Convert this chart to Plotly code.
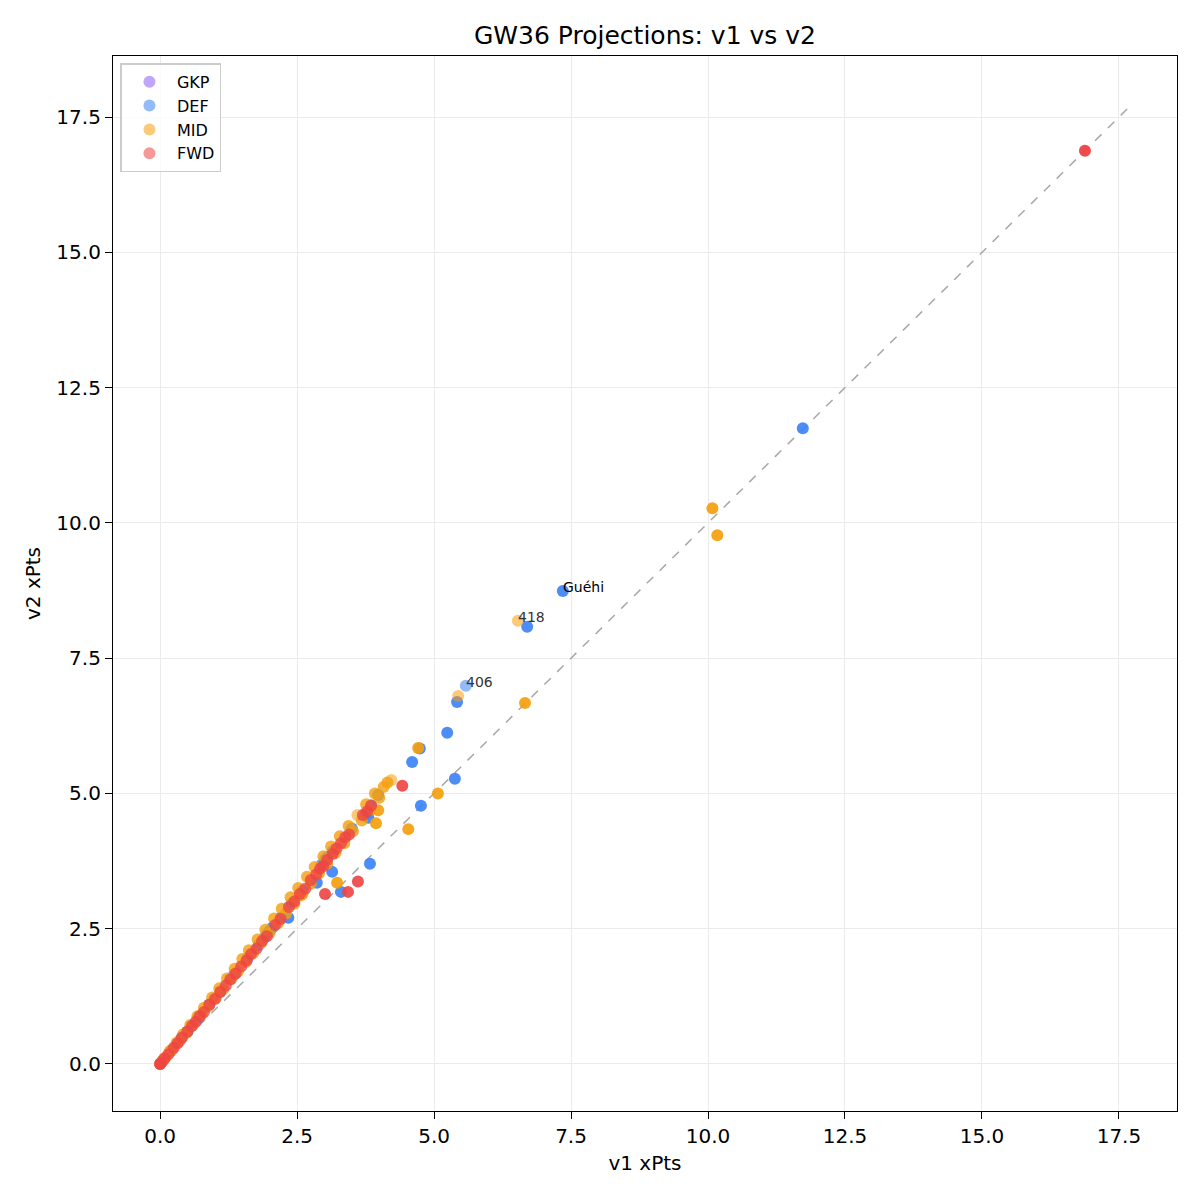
import plotly.graph_objects as go

# ---- data (v1 xPts, v2 xPts, stacked player count) per position ----
gkp_x = [0.0, 0.05]
gkp_y = [0.0, 0.06]
gkp_n = [2, 1]

def_x = [0.05, 0.2, 0.38, 0.5, 0.7, 0.9, 1.1, 1.35, 1.6, 1.8, 1.9, 1.95, 2.0, 2.05, 2.2, 2.4, 2.6,
         2.95, 3.01, 3.05, 3.15, 3.5, 3.75, 3.85, 3.98,
         2.34, 2.86, 3.14, 3.3, 3.8, 3.83, 4.6, 4.76, 4.74, 5.24, 5.38, 5.42, 5.58, 6.7, 7.35, 11.73]
def_y = [0.06, 0.24, 0.46, 0.6, 0.85, 1.1, 1.34, 1.65, 1.96, 2.2, 2.33, 2.4, 2.46, 2.52, 2.7, 2.96, 3.2,
         3.68, 3.78, 3.82, 3.93, 4.35, 4.62, 4.78, 4.97,
         2.7, 3.35, 3.55, 3.18, 4.55, 3.7, 5.58, 4.77, 5.83, 6.12, 5.27, 6.69, 6.99, 8.08, 8.74, 11.75]
def_n = [2, 2, 2, 2, 2, 2, 2, 2, 2, 2, 2, 2, 2, 2, 2, 2, 2,
         2, 2, 2, 2, 2, 2, 2, 2,
         3, 3, 3, 3, 3, 3, 3, 3, 3, 3, 3, 3, 1, 3, 3, 3]

mid_x = [0.0, 0.05, 0.1, 0.18, 0.22, 0.3, 0.35, 0.42, 0.48, 0.55, 0.6, 0.68, 0.75, 0.8, 0.88, 0.95,
         1.02, 1.08, 1.15, 1.22, 1.3, 1.36, 1.42, 1.5, 1.56, 1.62, 1.7, 1.78, 1.85, 1.92, 2.0, 2.08,
         2.15, 2.22, 2.3, 2.38, 2.45, 2.52, 2.6, 2.68, 2.75, 2.82, 2.9, 2.98, 3.05, 3.12, 3.2, 3.28,
         3.36, 3.44, 3.52, 3.6, 3.68, 3.76, 3.84, 3.92, 4.0, 4.08, 4.15, 4.22, 2.58,
         3.23, 3.94, 3.98, 4.53, 5.07, 4.71, 5.44, 6.53, 6.66, 10.08, 10.17]
mid_y = [0.0, 0.07, 0.12, 0.24, 0.26, 0.39, 0.42, 0.55, 0.57, 0.72, 0.72, 0.88, 0.9, 1.04, 1.06, 1.23,
         1.22, 1.4, 1.38, 1.58, 1.57, 1.76, 1.71, 1.94, 1.88, 2.1, 2.05, 2.3, 2.24, 2.48, 2.42, 2.69,
         2.6, 2.87, 2.78, 3.08, 2.96, 3.25, 3.15, 3.46, 3.33, 3.64, 3.52, 3.84, 3.7, 4.02, 3.9, 4.21,
         4.08, 4.4, 4.3, 4.6, 4.5, 4.8, 4.7, 5.0, 4.92, 5.12, 5.2, 5.25, 3.12,
         3.35, 4.45, 4.69, 4.34, 5.0, 5.84, 6.8, 8.19, 6.67, 10.27, 9.77]
mid_n = [3, 2, 2, 2, 2, 2, 2, 2, 2, 2, 2, 2, 2, 2, 2, 2,
         2, 2, 2, 2, 2, 2, 2, 2, 2, 2, 2, 2, 2, 2, 2, 2,
         2, 2, 2, 2, 2, 2, 2, 2, 2, 2, 2, 2, 2, 2, 2, 2,
         2, 2, 2, 1, 2, 2, 2, 2, 2, 2, 2, 1, 3,
         3, 3, 3, 3, 3, 3, 1, 1, 3, 3, 3]

fwd_x = [0.0, 0.02, 0.08, 0.15, 0.25, 0.32, 0.4, 0.5, 0.58, 0.65, 0.72, 0.8, 0.9, 1.0, 1.1, 1.2,
         1.28, 1.38, 1.48, 1.58, 1.66, 1.76, 1.86, 1.95, 2.1, 2.2, 2.35, 2.45, 2.55, 2.65, 2.75,
         2.85, 2.92, 2.98, 3.05, 3.15, 3.22, 3.3, 3.38, 3.45, 3.7, 3.78, 3.85,
         3.01, 3.43, 3.61, 4.42, 16.88]
fwd_y = [0.0, 0.02, 0.1, 0.18, 0.3, 0.38, 0.49, 0.6, 0.7, 0.78, 0.88, 0.96, 1.1, 1.2, 1.33, 1.45,
         1.56, 1.67, 1.8, 1.91, 2.03, 2.13, 2.27, 2.36, 2.57, 2.68, 2.9, 3.0, 3.14, 3.24, 3.4,
         3.5, 3.61, 3.66, 3.77, 3.88, 3.98, 4.08, 4.19, 4.24, 4.6, 4.67, 4.77,
         3.14, 3.18, 3.37, 5.14, 16.88]
fwd_n = [3, 2, 2, 2, 2, 2, 2, 2, 2, 2, 2, 2, 2, 2, 2, 2,
         2, 2, 2, 2, 2, 2, 2, 2, 2, 2, 2, 2, 2, 2, 2,
         2, 2, 2, 2, 2, 2, 2, 2, 2, 2, 2, 2,
         3, 3, 3, 3, 4]

labels = [("Guéhi", 7.35, 8.74, "#000000"), ("418", 6.53, 8.19, "#333333"), ("406", 5.58, 6.99, "#333333")]

diag_max = 17.72
ALPHA = 0.55

positions = [("GKP", gkp_x, gkp_y, gkp_n, "#8b5cf6"),
             ("DEF", def_x, def_y, def_n, "#3b82f6"),
             ("MID", mid_x, mid_y, mid_n, "#f59e0b"),
             ("FWD", fwd_x, fwd_y, fwd_n, "#ef4444")]

fig = go.Figure()
fig.add_trace(go.Scatter(x=[0, diag_max], y=[0, diag_max], mode="lines",
                         line=dict(color="#a8a8a8", width=1.5, dash="dash"),
                         showlegend=False, hoverinfo="skip"))
for name, xs, ys, ns, col in positions:
    ops = [1 - (1 - ALPHA) ** n for n in ns]
    fig.add_trace(go.Scatter(x=xs, y=ys, mode="markers", name=name, showlegend=False,
                             marker=dict(color=col, size=12, opacity=ops, line=dict(width=0))))
# legend entries (no data, styling only)
for name, xs, ys, ns, col in positions:
    fig.add_trace(go.Scatter(x=[None], y=[None], mode="markers", name=name,
                             marker=dict(color=col, size=12, opacity=ALPHA, line=dict(width=0))))

for txt, x, y, col in labels:
    fig.add_annotation(x=x, y=y, text=txt, showarrow=False, xanchor="left", yanchor="bottom",
                       xshift=-2, yshift=-6, font=dict(size=14, color=col, family="DejaVu Sans"))

axis_common = dict(showline=True, linecolor="black", linewidth=1.2, mirror=True,
                   ticks="outside", ticklen=7, tickwidth=1.2, tickcolor="black", tickformat=".1f",
                   tick0=0, dtick=2.5, showgrid=True, gridcolor="#ebebeb", gridwidth=1.2,
                   zeroline=False, tickfont=dict(size=20, color="black"))

fig.update_layout(
    width=1200, height=1200,
    margin=dict(l=113, r=23, t=56, b=89),
    paper_bgcolor="white", plot_bgcolor="white",
    font=dict(family="DejaVu Sans", color="black"),
    title=dict(text="GW36 Projections: v1 vs v2", xref="paper", x=0.5, xanchor="center",
               y=0.971, yanchor="middle", font=dict(size=25, color="black")),
    xaxis=dict(title=dict(text="v1 xPts", font=dict(size=20), standoff=8), range=[-0.86, 18.56], **axis_common),
    yaxis=dict(title=dict(text="v2 xPts", font=dict(size=20), standoff=10), range=[-0.87, 18.63], **axis_common),
    legend=dict(x=0.007, y=0.993, xanchor="left", yanchor="top", bgcolor="rgba(255,255,255,0.8)",
                bordercolor="#cccccc", borderwidth=1.5, font=dict(size=16), itemsizing="constant",
                itemwidth=45, tracegroupgap=0),
    showlegend=True,
)

fig.write_html("out.html")
